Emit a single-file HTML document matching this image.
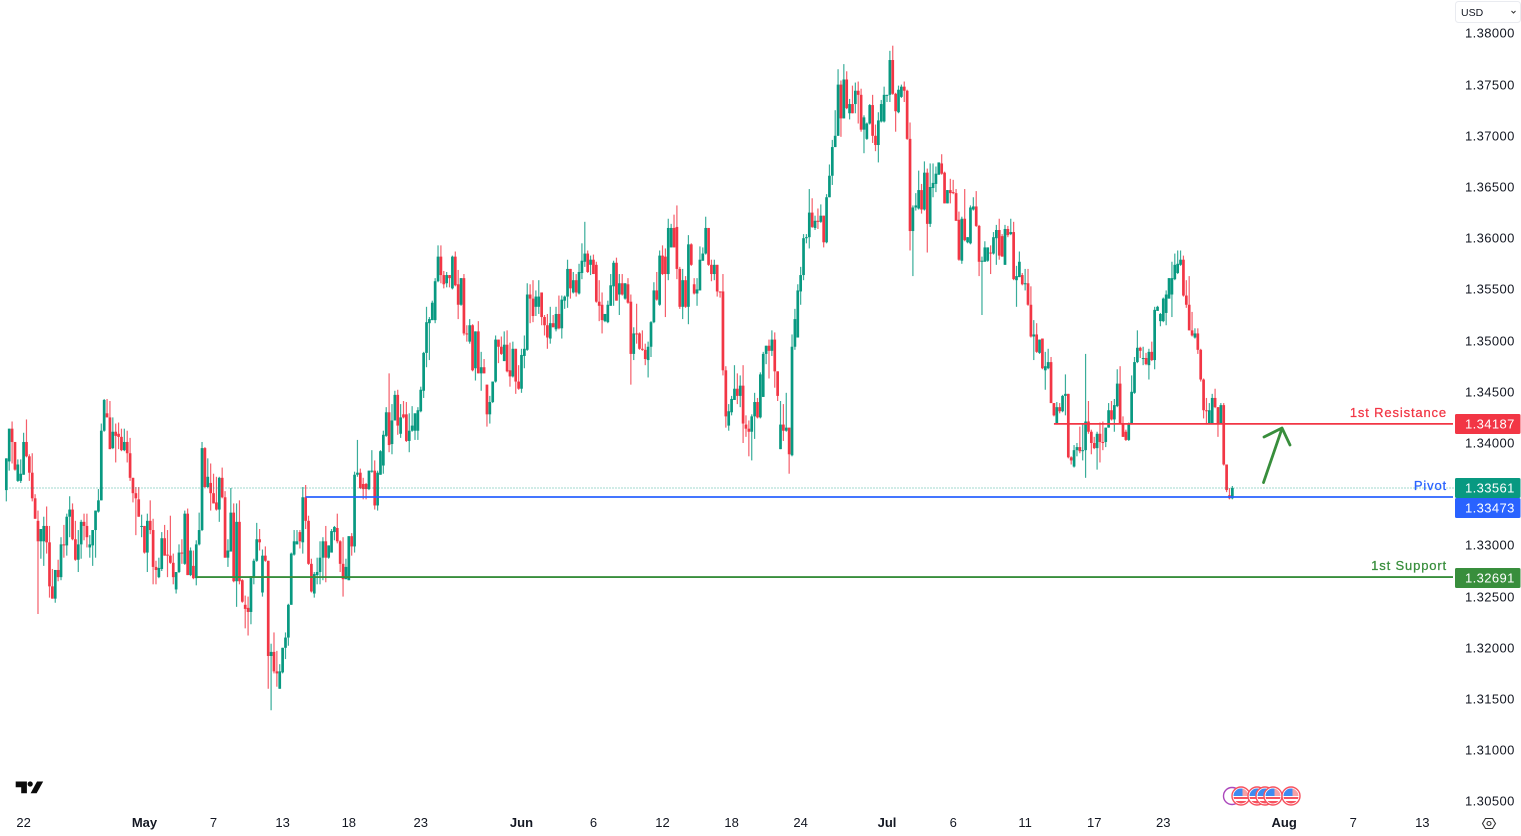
<!DOCTYPE html>
<html lang="en">
<head>
<meta charset="utf-8">
<title>USD Forex Chart</title>
<style>
html,body{margin:0;padding:0;background:#fff;width:1521px;height:836px;overflow:hidden}
svg{display:block;font-family:"Liberation Sans",Arial,sans-serif}
</style>
</head>
<body>
<svg id="chart" xmlns="http://www.w3.org/2000/svg" width="1521" height="836" viewBox="0 0 1521 836">
  <rect x="0" y="0" width="1521" height="836" fill="#ffffff"/>
  <g id="candles"></g>
  <g id="levels"></g>
  <g fill="none" stroke="#388e3c" stroke-width="2.8" stroke-linecap="round" stroke-linejoin="round">
    <line x1="1263.5" y1="482.5" x2="1282" y2="428.5"/>
    <polyline points="1264,437 1282,428 1290,445"/>
  </g>
  <g id="y-axis"></g>
  <g id="x-axis"></g>
  <g id="level-tags"></g>

  <g>
    <rect x="1455.5" y="1.5" width="65" height="21" rx="3" fill="#fff" stroke="#e9ebf0"/>
    <text x="1461" y="16" font-size="10.5" fill="#131722">USD</text>
    <polyline points="1511.5,11 1513.5,13 1515.5,11" fill="none" stroke="#333" stroke-width="1"/>
  </g>

  <g fill="#0b0b0b">
    <path d="M15.7 781.5H26.9V793.3H21.2V787.2H15.7Z"/>
    <circle cx="30.2" cy="784" r="2.6"/>
    <path d="M37 781.5H43.2L36.6 793.3H30.6Z"/>
  </g>

  <defs>
    <clipPath id="flag-clip"><circle cx="0" cy="0" r="7.5"/></clipPath>
  </defs>
  <g>
    <circle cx="1232" cy="796" r="8.5" fill="#fff" stroke="#ab47bc" stroke-width="1.4"/>
    <g id="flags"></g>
  </g>

  <g fill="none" stroke="#333" stroke-width="1.1">
    <polygon points="1485.5,818.5 1492.5,818.5 1495.5,823.5 1492.5,828.5 1485.5,828.5 1482.5,823.5"/>
    <circle cx="1489" cy="823.5" r="2"/>
  </g>
</svg>
<script>
// Prices in pips (1 unit = 0.0001)
const opens=[13354,13382,13414,13401,13363,13363,13369,13401,13387,13371,
13346,13324,13304,13304,13319,13303,13260,13248,13276,13269,
13301,13300,13328,13335,13306,13286,13301,13323,13319,13298,
13300,13315,13333,13344,13412,13429,13425,13395,13411,13409,
13406,13393,13401,13390,13366,13351,13345,13318,13319,13293,
13324,13315,13279,13269,13277,13307,13291,13290,13283,13257,
13274,13293,13282,13331,13271,13280,13268,13301,13315,13395,
13357,13361,13351,13342,13335,13366,13347,13288,13294,13332,
13265,13323,13266,13242,13239,13235,13269,13285,13306,13254,
13290,13285,13192,13196,13177,13160,13176,13200,13210,13242,
13291,13301,13313,13303,13347,13324,13282,13253,13271,13274,
13288,13304,13288,13293,13313,13317,13304,13282,13267,13266,
13309,13299,13369,13371,13360,13360,13355,13372,13373,13339,
13369,13378,13407,13430,13399,13422,
13447,13409,13428,13428,13402,13412,13412,13412,13431,13451,13488,13517,13520,13520,
13558,13582,13564,13556,13564,13551,13582,13555,13535,13561,
13507,13499,13515,13473,13509,13468,13474,13457,13428,13440,
13460,13501,13494,13480,13496,13471,13465,13492,13460,13453,
13485,13491,13545,13541,13533,13533,13547,13523,13515,13502,
13517,13511,13526,13512,13539,13543,13570,13547,13559,13546,
13566,13577,13585,13574,13579,13574,13538,13535,13519,13518,
13534,13553,13576,13545,13556,13541,13555,13538,13487,13507,
13507,13492,13491,13481,13494,13518,13549,13535,13583,13582,
13565,13591,13610,13611,13570,13533,13559,13533,13594,13555,
13546,13549,13578,13585,13610,13574,13565,13574,13548,13548,
13471,13417,13430,13442,13453,13446,13456,13418,13414,13411,
13426,13440,13425,13445,13487,13495,13490,13501,13470,13394,
13418,13412,13415,13388,13494,13503,13548,13564,13600,
13601,13625,13610,13617,13616,13622,13596,13640,13661,13689,
13700,13750,13717,13755,13722,13731,13731,13744,13740,13706,
13697,13712,13730,13700,13691,13714,13714,13739,13740,13774,
13741,13723,13738,13748,13744,13697,13607,13630,13629,13647,
13628,13664,13614,13649,13653,13662,13673,13664,13634,13647,
13645,13644,13618,13578,13619,13596,13595,13628,13631,13612,
13577,13577,13578,13586,13585,13600,13608,13602,13574,13609,
13604,13606,
13559,13562,13564,13555,13556,13535,13504,13506,13488,13502,
13471,13473,13479,13439,13419,13435,13431,13446,13448,13386,
13377,13393,13396,13392,13393,13421,13411,13400,13395,13409,
13401,13401,13415,13432,13423,13436,13458,13419,13411,13403,
13419,13449,13479,13493,13482,13483,13476,13489,13481,13529,
13519,13519,13527,13541,13545,13560,13566,13574,13579,13544,
13535,13510,13503,13507,13491,13462,13432,13419,13419,13444,
13435,13419,13437,13379,13349,13346];
const closes=[13385,13414,13401,13374,13379,13370,13401,13387,13371,13346,
13326,13304,13316,13319,13303,13260,13248,13276,13269,13301,
13300,13328,13335,13306,13286,13301,13323,13319,13308,13301,
13315,13334,13344,13412,13442,13425,13394,13411,13407,13406,
13393,13401,13390,13366,13351,13346,13328,13319,13293,13324,
13315,13279,13276,13278,13307,13290,13290,13283,13269,13274,
13293,13292,13331,13271,13295,13268,13301,13315,13395,13357,
13367,13351,13341,13335,13366,13347,13288,13295,13332,13265,
13323,13265,13245,13238,13235,13270,13285,13306,13303,13290,
13285,13192,13196,13177,13175,13177,13200,13210,13242,13292,
13304,13304,13304,13347,13324,13282,13255,13272,13274,13288,
13304,13288,13300,13314,13318,13304,13282,13267,13279,13309,
13299,13369,13371,13356,13355,13355,13373,13373,13339,13371,
13392,13408,13430,13398,13422,13447,
13417,13425,13425,13402,13412,13417,13429,13432,13452,13488,13518,13521,13537,13558,
13582,13564,13555,13564,13561,13582,13554,13535,13561,13507,
13506,13515,13471,13509,13468,13474,13468,13428,13440,13460,
13501,13494,13487,13496,13470,13465,13492,13460,13453,13486,
13492,13545,13541,13524,13543,13543,13523,13515,13503,13517,
13513,13526,13512,13540,13543,13570,13551,13559,13547,13567,
13578,13585,13567,13579,13565,13538,13534,13520,13526,13535,
13554,13576,13539,13556,13545,13556,13537,13487,13507,13506,
13492,13491,13482,13494,13518,13549,13540,13583,13565,13565,
13610,13610,13591,13570,13533,13559,13533,13594,13574,13546,
13550,13579,13585,13610,13574,13565,13574,13548,13547,13471,
13426,13431,13443,13453,13446,13456,13419,13414,13411,13426,
13440,13425,13467,13487,13495,13490,13501,13470,13446,13418,
13412,13415,13389,13494,13521,13549,13564,13600,13601,
13625,13611,13617,13616,13622,13596,13640,13661,13689,13700,
13750,13717,13755,13727,13731,13722,13744,13740,13706,13718,
13712,13730,13700,13691,13715,13731,13740,13740,13774,13741,
13724,13745,13748,13744,13697,13607,13630,13632,13647,13628,
13664,13614,13650,13654,13663,13674,13663,13634,13647,13644,
13644,13617,13579,13619,13598,13601,13630,13631,13612,13577,
13578,13591,13591,13585,13601,13608,13583,13582,13609,13603,
13606,13560,
13563,13577,13555,13556,13535,13504,13506,13489,13501,13473,
13475,13479,13439,13427,13435,13431,13446,13448,13386,13383,
13393,13396,13392,13393,13421,13411,13400,13395,13409,13401,
13400,13415,13432,13423,13437,13458,13419,13406,13403,13419,
13450,13479,13493,13490,13483,13477,13489,13481,13530,13533,
13526,13541,13545,13561,13561,13574,13575,13579,13544,13535,
13510,13505,13507,13491,13462,13432,13431,13432,13444,13435,
13419,13437,13379,13354,13346,13356];
const highs=[13385,13414,13421,13401,13384,13384,13410,13423,13389,13390,
13350,13334,13316,13328,13338,13319,13277,13276,13286,13308,
13320,13331,13348,13341,13324,13315,13325,13331,13331,13310,
13315,13334,13355,13419,13443,13443,13441,13425,13419,13420,
13414,13414,13412,13405,13366,13357,13357,13330,13319,13331,
13344,13326,13285,13288,13313,13320,13315,13329,13292,13274,
13301,13306,13334,13336,13298,13295,13305,13332,13401,13396,
13385,13380,13370,13367,13367,13376,13353,13306,13356,13341,
13341,13344,13267,13251,13250,13270,13287,13322,13316,13296,
13299,13285,13204,13215,13197,13184,13200,13215,13243,13293,
13315,13315,13315,13357,13359,13329,13287,13274,13288,13304,
13308,13319,13300,13316,13319,13331,13305,13308,13287,13309,
13312,13372,13403,13375,13366,13361,13373,13393,13383,13373,
13393,13412,13435,13468,13438,13451,
13452,13438,13441,13440,13429,13436,13429,13435,13455,13489,13533,13523,13539,13561,
13593,13593,13568,13567,13564,13583,13587,13569,13561,13565,
13515,13521,13516,13509,13519,13489,13482,13457,13446,13460,
13505,13501,13504,13509,13510,13498,13499,13492,13476,13492,
13505,13556,13555,13559,13549,13559,13547,13525,13526,13533,
13525,13533,13544,13544,13544,13579,13570,13567,13565,13575,
13595,13616,13588,13583,13584,13577,13559,13547,13526,13539,
13565,13578,13581,13565,13565,13556,13561,13545,13513,13536,
13508,13510,13497,13499,13519,13557,13567,13588,13593,13590,
13619,13614,13623,13632,13572,13570,13563,13603,13595,13561,
13561,13592,13591,13621,13610,13579,13579,13574,13548,13565,
13475,13438,13446,13476,13468,13466,13476,13427,13422,13428,
13449,13444,13469,13489,13495,13501,13510,13508,13470,13441,
13438,13449,13415,13506,13531,13555,13572,13604,13604,
13648,13639,13622,13629,13633,13622,13643,13672,13696,13725,
13765,13754,13770,13763,13736,13749,13752,13753,13746,13720,
13713,13731,13740,13711,13723,13735,13748,13740,13783,13788,
13742,13749,13750,13753,13745,13713,13632,13644,13666,13653,
13675,13668,13673,13673,13670,13674,13682,13665,13647,13658,
13657,13648,13626,13621,13648,13601,13632,13640,13646,13613,
13582,13597,13591,13593,13606,13613,13619,13604,13613,13612,
13619,13616,
13573,13587,13566,13570,13570,13553,13520,13517,13501,13502,
13489,13492,13484,13439,13440,13439,13447,13467,13448,13387,
13398,13400,13416,13419,13487,13441,13413,13406,13411,13420,
13421,13415,13439,13441,13443,13472,13475,13426,13413,13420,
13466,13484,13510,13494,13494,13488,13492,13499,13533,13534,
13527,13542,13549,13561,13577,13585,13588,13588,13583,13559,
13563,13528,13512,13512,13492,13463,13444,13439,13448,13453,
13435,13439,13439,13379,13356,13358];
const lows=[13343,13373,13380,13373,13362,13361,13369,13386,13363,13343,
13326,13233,13287,13280,13292,13249,13248,13244,13265,13266,
13288,13290,13308,13305,13285,13274,13287,13305,13298,13288,
13280,13288,13332,13344,13411,13425,13394,13394,13381,13394,
13392,13392,13381,13363,13342,13310,13328,13308,13292,13274,
13311,13262,13262,13268,13275,13290,13269,13282,13262,13253,
13273,13282,13281,13271,13270,13267,13261,13300,13314,13356,
13356,13334,13341,13334,13323,13346,13288,13279,13294,13264,
13240,13262,13244,13219,13212,13223,13262,13284,13295,13250,
13284,13160,13139,13175,13162,13160,13175,13189,13202,13242,
13290,13301,13297,13292,13316,13281,13254,13249,13262,13262,
13266,13264,13287,13293,13305,13302,13274,13250,13267,13266,
13290,13293,13367,13355,13345,13345,13354,13371,13335,13334,
13369,13370,13406,13391,13389,13422,
13408,13405,13424,13401,13391,13411,13403,13403,13430,13444,13474,13481,13520,13517,
13557,13556,13551,13552,13552,13550,13553,13521,13534,13505,
13499,13497,13470,13461,13468,13451,13468,13416,13419,13439,
13459,13478,13486,13480,13469,13455,13464,13448,13452,13449,
13473,13490,13517,13518,13524,13526,13515,13505,13492,13497,
13513,13509,13511,13502,13531,13532,13541,13546,13543,13545,
13560,13572,13566,13564,13565,13537,13519,13507,13518,13517,
13534,13534,13539,13525,13544,13540,13536,13457,13481,13497,
13491,13490,13476,13464,13484,13517,13539,13534,13564,13523,
13559,13591,13591,13560,13531,13521,13532,13516,13573,13545,
13534,13549,13578,13584,13573,13558,13559,13543,13542,13466,
13415,13412,13427,13442,13438,13435,13400,13406,13387,13383,
13404,13424,13424,13445,13477,13463,13485,13454,13441,13394,
13402,13411,13370,13387,13491,13503,13535,13559,13595,
13590,13610,13608,13609,13615,13591,13595,13640,13652,13689,
13700,13699,13717,13726,13716,13722,13722,13712,13704,13683,
13696,13711,13693,13685,13674,13713,13713,13733,13733,13740,
13704,13722,13737,13733,13696,13588,13563,13627,13628,13624,
13627,13586,13611,13640,13645,13662,13662,13634,13634,13634,
13643,13617,13578,13575,13597,13595,13594,13627,13611,13563,
13525,13577,13577,13565,13584,13574,13579,13582,13574,13601,
13603,13559,
13533,13562,13554,13549,13534,13503,13481,13488,13487,13472,
13452,13472,13439,13426,13418,13429,13430,13427,13385,13379,
13376,13387,13390,13383,13366,13409,13389,13394,13374,13381,
13393,13396,13415,13422,13411,13435,13419,13406,13402,13402,
13418,13448,13478,13483,13476,13476,13462,13480,13472,13529,
13514,13518,13515,13541,13523,13559,13565,13573,13543,13532,
13510,13504,13502,13487,13460,13424,13418,13418,13419,13434,
13406,13419,13378,13352,13345,13345];

const priceTicks=[1.38,1.375,1.37,1.365,1.36,1.355,1.35,1.345,1.34,1.33,1.325,1.32,1.315,1.31,1.305];
const timeLabels=["22","May","7","13","18","23","Jun","6","12","18","24","Jul","6","11","17","23","Aug","7","13"];
const timeBars=[6,48,72,96,119,144,179,204,228,252,276,306,329,354,378,402,444,468,492];
const majorLabels=["May","Jun","Jul","Aug"];

const levelNames=["1st Resistance","Pivot","1st Support"];
const levelValues=[1.34187,1.33473,1.32691];
const levelStartBars=[364,104,66];
const levelColors=["#f23645","#2962ff","#388e3c"];

const NS="http://www.w3.org/2000/svg";
const xOf=function(i){return 6.33+i*2.878;};
const yOf=function(p){return 33.4+(1.38-p)*10240;};
const yPip=function(q){return yOf(q/10000);};
const UP="#089981",DOWN="#f23645";

function mk(tag,attrs,parent){
  const e=document.createElementNS(NS,tag);
  for(const k in attrs){e.setAttribute(k,attrs[k]);}
  parent.appendChild(e);
  return e;
}

const candleGroup=document.getElementById("candles");
for(let i=0;i<closes.length;i++){
  const col=closes[i]>=opens[i]?UP:DOWN;
  const x=xOf(i);
  const g=mk("g",{},candleGroup);
  
  
  const top=Math.max(opens[i],closes[i]),bot=Math.min(opens[i],closes[i]);
  const w=mk("rect",{x:x-0.6,y:yPip(highs[i]),width:1.2,height:Math.max(0.5,yPip(lows[i])-yPip(highs[i])),fill:col,opacity:0.8},g);
  
  
  const b=mk("rect",{x:x-1.35,y:yPip(top),width:2.7,height:Math.max(1,yPip(bot)-yPip(top)),fill:col},g);
  
  
}

const lvl=document.getElementById("levels");
const lastPrice=closes[closes.length-1]/10000+0.00001;
const lastLine=mk("line",{x1:xOf(0),x2:1454,y1:yOf(lastPrice),y2:yOf(lastPrice),stroke:UP,"stroke-width":1,"stroke-dasharray":"1 2",opacity:0.75,"shape-rendering":"crispEdges"},lvl);


for(let i=0;i<levelValues.length;i++){
  const y=yOf(levelValues[i]);
  const ln=mk("line",{x1:xOf(levelStartBars[i]),x2:1453,y1:y,y2:y,stroke:levelColors[i],"stroke-width":1.8},lvl);
  
  
  const t=mk("text",{x:1447,y:y-7,"text-anchor":"end","font-size":13,"letter-spacing":"0.85",fill:levelColors[i],stroke:levelColors[i],"stroke-width":0.25},lvl);
  
  
  t.textContent=levelNames[i];
}

const ya=document.getElementById("y-axis");
for(let i=0;i<priceTicks.length;i++){
  const t=mk("text",{x:1465,y:Math.round(yOf(priceTicks[i]))+4.6,"font-size":13,"letter-spacing":"0.4",fill:"#131722"},ya);
  
  
  t.textContent=priceTicks[i].toFixed(5);
}

const xa=document.getElementById("x-axis");
for(let i=0;i<timeLabels.length;i++){
  const major=majorLabels.indexOf(timeLabels[i])>=0;
  const t=mk("text",{x:xOf(timeBars[i]),y:827,"text-anchor":"middle","font-size":13,"font-weight":major?"700":"400",fill:"#131722"},xa);
  
  
  t.textContent=timeLabels[i];
}

const tagValues=[1.34187,lastPrice,1.33473,1.32691];
const tagColors=["#f23645","#089981","#2962ff","#388e3c"];
const tagText=["1.34187","1.33561","1.33473","1.32691"];
const tags=document.getElementById("level-tags");
let prevBottom=-100;
for(let i=0;i<tagValues.length;i++){
  let cy=Math.round(yOf(tagValues[i])+0.5);
  if(cy-10<prevBottom){cy=prevBottom+10;}
  prevBottom=cy+10;
  const r=mk("rect",{x:1455,y:cy-10,width:65.5,height:20,rx:1.5,fill:tagColors[i]},tags);
  
  
  const t=mk("text",{x:1465,y:cy+4.6,"font-size":13,"letter-spacing":"0.4",fill:"#ffffff"},tags);
  
  
  t.textContent=tagText[i];
}

const flagCenters=[1241,1257,1265,1273,1291];
const flags=document.getElementById("flags");
for(let i=0;i<flagCenters.length;i++){
  const g=mk("g",{transform:"translate("+flagCenters[i]+",796)"},flags);
  
  
  const ring=mk("circle",{cx:0,cy:0,r:9,fill:"#fff",stroke:"#f7525f","stroke-width":1.4},g);
  
  
  const inner=mk("g",{"clip-path":"url(#flag-clip)"},g);
  
  
  mk("rect",{x:-8,y:-8,width:16,height:16,fill:"#fff"},inner);
  mk("rect",{x:-8,y:1,width:16,height:2,fill:"#f7525f"},inner);
  mk("rect",{x:-8,y:5,width:16,height:3,fill:"#f7525f"},inner);
  mk("rect",{x:-8,y:-8,width:16,height:8,fill:"#f7a0a6"},inner);
  mk("rect",{x:-8,y:-8,width:9.5,height:8,fill:"#3d8bf2"},inner);
}
</script>
</body>
</html>
